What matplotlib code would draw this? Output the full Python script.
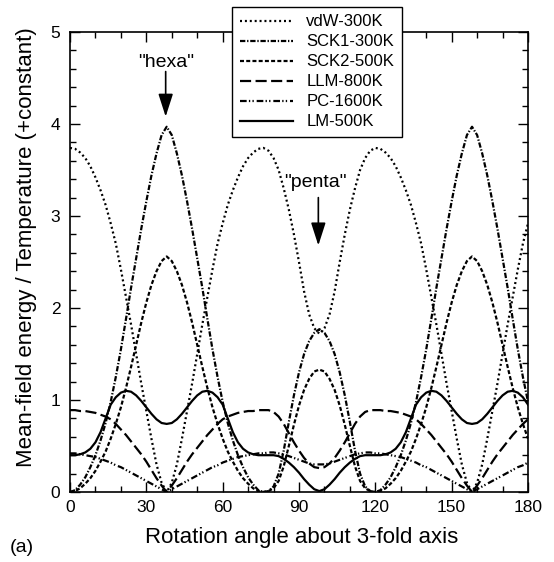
import matplotlib
matplotlib.use("Agg")
import matplotlib.pyplot as plt
from matplotlib.ticker import MultipleLocator

plt.rcParams['font.family'] = ['Liberation Sans', 'DejaVu Sans']

# rotation angle (deg), sampled every 2 degrees
angle = list(range(0, 181, 2))

vdw_300 = [3.74, 3.73, 3.69, 3.63, 3.54, 3.42, 3.28, 3.12, 2.92, 2.70, 2.42, 2.12, 1.82, 1.50, 1.18, 0.88, 0.58, 0.30, 0.10, 0.00,
           0.10, 0.30, 0.58, 0.88, 1.18, 1.50, 1.82, 2.12, 2.42, 2.70, 2.92, 3.12, 3.28, 3.42, 3.54, 3.63, 3.69, 3.73, 3.74, 3.71,
           3.63, 3.50, 3.30, 3.07, 2.80, 2.50, 2.18, 1.93, 1.78, 1.72,
           1.78, 1.93, 2.18, 2.50, 2.80, 3.07, 3.30, 3.50, 3.63, 3.71, 3.74, 3.73, 3.69, 3.63, 3.54, 3.42, 3.28, 3.12, 2.92, 2.70,
           2.42, 2.12, 1.82, 1.50, 1.18, 0.88, 0.58, 0.30, 0.10, 0.00,
           0.10, 0.30, 0.58, 0.88, 1.18, 1.50, 1.82, 2.12, 2.42, 2.70, 2.92]

sck1_300 = [0.00, 0.02, 0.08, 0.16, 0.27, 0.40, 0.56, 0.75, 0.98, 1.25, 1.55, 1.88, 2.22, 2.54, 2.86, 3.16, 3.44, 3.68, 3.88, 3.97,
            3.88, 3.68, 3.44, 3.16, 2.86, 2.54, 2.22, 1.88, 1.55, 1.25, 0.98, 0.75, 0.56, 0.40, 0.27, 0.16, 0.08, 0.02, 0.00, 0.01,
            0.06, 0.20, 0.45, 0.76, 1.05, 1.30, 1.50, 1.64, 1.73, 1.77,
            1.73, 1.64, 1.50, 1.30, 1.05, 0.76, 0.45, 0.20, 0.06, 0.01, 0.00, 0.02, 0.08, 0.16, 0.27, 0.40, 0.56, 0.75, 0.98, 1.25,
            1.55, 1.88, 2.22, 2.54, 2.86, 3.16, 3.44, 3.68, 3.88, 3.97,
            3.88, 3.68, 3.44, 3.16, 2.86, 2.54, 2.22, 1.88, 1.55, 1.25, 0.98]

sck2_500 = [0.00, 0.01, 0.04, 0.09, 0.15, 0.23, 0.33, 0.44, 0.58, 0.74, 0.92, 1.13, 1.36, 1.60, 1.84, 2.06, 2.25, 2.40, 2.51, 2.56,
            2.51, 2.40, 2.25, 2.06, 1.84, 1.60, 1.36, 1.13, 0.92, 0.74, 0.58, 0.44, 0.33, 0.23, 0.15, 0.09, 0.04, 0.01, 0.00, 0.01,
            0.04, 0.12, 0.28, 0.50, 0.73, 0.94, 1.11, 1.23, 1.31, 1.33,
            1.31, 1.23, 1.11, 0.94, 0.73, 0.50, 0.28, 0.12, 0.04, 0.01, 0.00, 0.01, 0.04, 0.09, 0.15, 0.23, 0.33, 0.44, 0.58, 0.74,
            0.92, 1.13, 1.36, 1.60, 1.84, 2.06, 2.25, 2.40, 2.51, 2.56,
            2.51, 2.40, 2.25, 2.06, 1.84, 1.60, 1.36, 1.13, 0.92, 0.74, 0.58]

llm_800 = [0.89, 0.89, 0.88, 0.88, 0.87, 0.86, 0.84, 0.82, 0.79, 0.74, 0.68, 0.62, 0.55, 0.48, 0.41, 0.33, 0.24, 0.15, 0.07, 0.00,
           0.07, 0.15, 0.24, 0.33, 0.41, 0.48, 0.55, 0.62, 0.68, 0.74, 0.79, 0.82, 0.84, 0.86, 0.87, 0.88, 0.88, 0.89, 0.89, 0.89,
           0.87, 0.82, 0.74, 0.64, 0.54, 0.45, 0.37, 0.31, 0.27, 0.26,
           0.27, 0.31, 0.37, 0.45, 0.54, 0.64, 0.74, 0.82, 0.87, 0.89, 0.89, 0.89, 0.88, 0.88, 0.87, 0.86, 0.84, 0.82, 0.79, 0.74,
           0.68, 0.62, 0.55, 0.48, 0.41, 0.33, 0.24, 0.15, 0.07, 0.00,
           0.07, 0.15, 0.24, 0.33, 0.41, 0.48, 0.55, 0.62, 0.68, 0.74, 0.79]

pc_1600 = [0.42, 0.42, 0.41, 0.40, 0.39, 0.38, 0.36, 0.34, 0.32, 0.29, 0.27, 0.24, 0.21, 0.18, 0.15, 0.12, 0.09, 0.06, 0.03, 0.00,
           0.03, 0.06, 0.09, 0.12, 0.15, 0.18, 0.21, 0.24, 0.27, 0.29, 0.32, 0.34, 0.36, 0.38, 0.39, 0.40, 0.41, 0.42, 0.42, 0.43,
           0.43, 0.42, 0.41, 0.39, 0.37, 0.35, 0.33, 0.31, 0.30, 0.30,
           0.30, 0.31, 0.33, 0.35, 0.37, 0.39, 0.41, 0.42, 0.43, 0.43, 0.42, 0.42, 0.41, 0.40, 0.39, 0.38, 0.36, 0.34, 0.32, 0.29,
           0.27, 0.24, 0.21, 0.18, 0.15, 0.12, 0.09, 0.06, 0.03, 0.00,
           0.03, 0.06, 0.09, 0.12, 0.15, 0.18, 0.21, 0.24, 0.27, 0.29, 0.32]

lm_500 = [0.40, 0.40, 0.41, 0.43, 0.47, 0.54, 0.65, 0.80, 0.95, 1.03, 1.08, 1.10, 1.09, 1.05, 0.99, 0.92, 0.85, 0.79, 0.75, 0.74,
          0.75, 0.79, 0.85, 0.92, 0.99, 1.05, 1.09, 1.10, 1.08, 1.03, 0.95, 0.80, 0.65, 0.54, 0.47, 0.43, 0.41, 0.40, 0.40, 0.40,
          0.40, 0.39, 0.36, 0.32, 0.27, 0.21, 0.14, 0.08, 0.03, 0.01,
          0.03, 0.08, 0.14, 0.21, 0.27, 0.32, 0.36, 0.39, 0.40, 0.40, 0.40, 0.40, 0.41, 0.43, 0.47, 0.54, 0.65, 0.80, 0.95, 1.03,
          1.08, 1.10, 1.09, 1.05, 0.99, 0.92, 0.85, 0.79, 0.75, 0.74,
          0.75, 0.79, 0.85, 0.92, 0.99, 1.05, 1.09, 1.10, 1.08, 1.03, 0.95]

series = [vdw_300, sck1_300, sck2_500, llm_800, pc_1600, lm_500]
names = ["vdW-300K", "SCK1-300K", "SCK2-500K", "LLM-800K", "PC-1600K", "LM-500K"]
styles = [(0, (0.9, 1.3)),
          (0, (2.4, 0.8, 0.6, 0.8)),
          (0, (1.8, 1.0)),
          (0, (5, 2)),
          (0, (3, 1, 0.6, 1, 0.6, 1.3)),
          "-"]

fig = plt.figure(figsize=(5.54, 5.62), dpi=100)
ax = fig.add_axes([70/554, 70/562, 458/554, 460/562])

for vals, name, ls in zip(series, names, styles):
    ax.plot(angle, vals, color="black", lw=1.6, linestyle=ls, label=name)

ax.set_xlim(0, 180)
ax.set_ylim(0, 5)
ax.xaxis.set_major_locator(MultipleLocator(30))
ax.xaxis.set_minor_locator(MultipleLocator(10))
ax.yaxis.set_major_locator(MultipleLocator(1))
ax.yaxis.set_minor_locator(MultipleLocator(0.2))
ax.tick_params(which="both", direction="in", top=True, right=True, width=1, labelsize=12.5)
ax.tick_params(which="major", length=7)
ax.tick_params(which="minor", length=4)
ax.tick_params(axis="x", pad=6)
ax.tick_params(axis="y", pad=7)
for sp in ax.spines.values():
    sp.set_linewidth(1.2)

# "hexa" / "penta" markers
ax.annotate("", xy=(37.6, 4.08), xytext=(37.6, 4.57),
            arrowprops=dict(arrowstyle="-|>,head_length=1.4,head_width=0.45",
                            color="black", lw=1.2, shrinkA=0, shrinkB=0))
ax.text(37.6, 4.67, '"hexa"', ha="center", va="center", fontsize=14)
ax.annotate("", xy=(97.6, 2.68), xytext=(97.6, 3.2),
            arrowprops=dict(arrowstyle="-|>,head_length=1.4,head_width=0.45",
                            color="black", lw=1.2, shrinkA=0, shrinkB=0))
ax.text(96.5, 3.36, '"penta"', ha="center", va="center", fontsize=14)

leg = ax.legend(loc="upper left", bbox_to_anchor=(232/554, 1 - 7/562),
                bbox_transform=fig.transFigure, fancybox=False, edgecolor="black",
                framealpha=1, fontsize=12, handlelength=3.2, labelspacing=0.3,
                borderpad=0.45, handletextpad=0.8, borderaxespad=0)
leg.get_frame().set_linewidth(1.0)

fig.text(302/554, 1 - 538/562, "Rotation angle about 3-fold axis",
         ha="center", va="center", fontsize=16)
fig.text(27/554, 1 - 247/562, "Mean-field energy / Temperature (+constant)",
         ha="center", va="center", rotation=90, fontsize=16)
fig.text(22/554, 1 - 548/562, "(a)", ha="center", va="center", fontsize=14)

fig.savefig("out.png", dpi=100)
